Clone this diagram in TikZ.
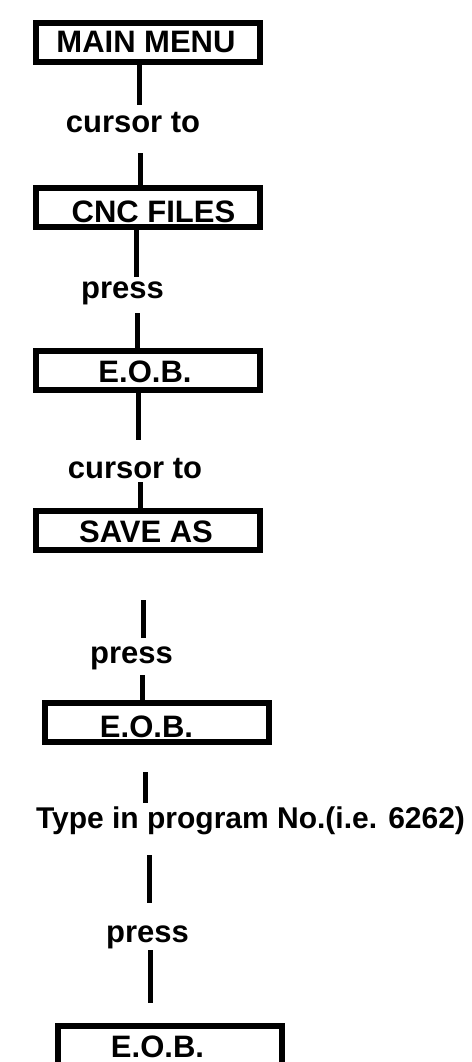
\documentclass[tikz,border=0pt]{standalone}
\usepackage{fontspec}
\setmainfont{Liberation Sans}
\newcommand\shtxt[2]{\hspace*{#1pt}#2\hspace*{-#1pt}}
\begin{document}
\begin{tikzpicture}[x=1pt,y=-1pt,
  box/.style={draw=black, line width=6pt, minimum width=224pt, minimum height=39pt,
    inner sep=0pt, text depth=0pt, font=\fontsize{31}{36}\selectfont\bfseries},
  lab/.style={inner sep=0pt, anchor=base, font=\fontsize{31}{36}\selectfont\bfseries},
  conn/.style={draw=black, line width=5pt}]
\clip (0,0) rectangle (471,1062);
\fill[white] (0,0) rectangle (471,1062);

% boxes
\node[box, text height=21pt] (b1) at (148,42.5)  {\shtxt{-2}{MAIN MENU}};
\node[box, text height=30pt] (b2) at (148,207.5) {\shtxt{5.5}{CNC FILES}};
\node[box, text height=23pt] (b3) at (148,370.5) {\shtxt{-3}{E.O.B.}};
\node[box, text height=24pt] (b4) at (148,530.5) {\shtxt{-2}{SAVE AS}};
\node[box, text height=29pt] (b5) at (157,722.5) {\shtxt{-10.5}{E.O.B.}};
\node[box, text height=23pt] (b6) at (170,1045.5) {\shtxt{-12.5}{E.O.B.}};

% labels
\node[lab] (l1) at (133,132) {cursor to};
\node[lab] (l2) at (122.5,298) {press};
\node[lab] (l3) at (135,478) {cursor to};
\node[lab] (l4) at (131.5,663) {press};
\node[lab, font=\fontsize{30}{36}\selectfont\bfseries] (l5) at (250.5,828) {Type in program No.(i.e. 6262)};
\node[lab] (l6) at (147.5,942) {press};

% connector ends
\coordinate (c1) at (139,105);
\coordinate (c2) at (140,153);
\coordinate (c3) at (136,277);
\coordinate (c4) at (137,313);
\coordinate (c5) at (138,440);
\coordinate (c6) at (140,482);
\coordinate (c7a) at (143,600);
\coordinate (c7b) at (143,638);
\coordinate (c8) at (142,675);
\coordinate (c9a) at (145,772);
\coordinate (c9b) at (145,803);
\coordinate (c10a) at (149,855);
\coordinate (c10b) at (149,903);
\coordinate (c11a) at (150,950);
\coordinate (c11b) at (150,1003);

% connectors
\draw[conn] (b1.south -| c1) -- (c1);
\draw[conn] (c2) -- (c2 |- b2.north);
\draw[conn] (b2.south -| c3) -- (c3);
\draw[conn] (c4) -- (c4 |- b3.north);
\draw[conn] (b3.south -| c5) -- (c5);
\draw[conn] (c6) -- (c6 |- b4.north);
\draw[conn] (c7a) -- (c7b);
\draw[conn] (c8) -- (c8 |- b5.north);
\draw[conn] (c9a) -- (c9b);
\draw[conn] (c10a) -- (c10b);
\draw[conn] (c11a) -- (c11b);
\end{tikzpicture}
\end{document}
